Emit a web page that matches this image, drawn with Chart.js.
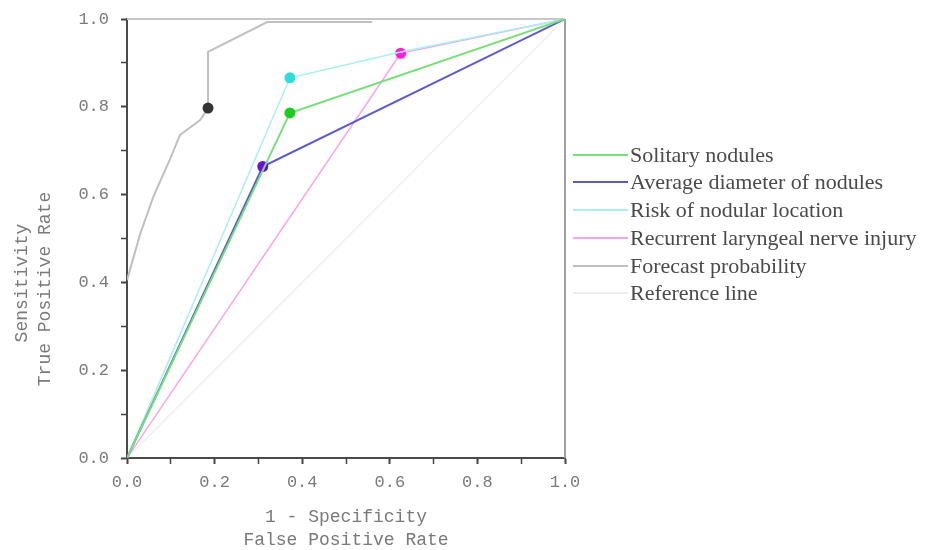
<!DOCTYPE html>
<html>
<head>
<meta charset="utf-8">
<script src="https://cdn.jsdelivr.net/npm/chart.js@4.4.1/dist/chart.umd.min.js"></script>
<style>
  html, body { margin: 0; padding: 0; background: #fff; }
  #wrap { width: 925px; height: 550px; position: relative; }
</style>
</head>
<body>
<div id="wrap"><canvas id="roc"></canvas></div>
<script>
// ROC data
const seriesNames = [
  'Solitary nodules',
  'Average diameter of nodules',
  'Risk of nodular location',
  'Recurrent laryngeal nerve injury',
  'Forecast probability',
  'Reference line'
];
const solitaryX = [0, 0.372, 1];
const solitaryY = [0, 0.786, 1];
const diameterX = [0, 0.31, 1];
const diameterY = [0, 0.664, 1];
const locationX = [0, 0.372, 0.625, 1];
const locationY = [0, 0.866, 0.925, 1];
const nerveX = [0, 0.625, 1];
const nerveY = [0, 0.922, 1];
const forecastX = [0, 0.03, 0.06, 0.098, 0.121, 0.167, 0.185, 0.185, 0.32, 0.56];
const forecastY = [0.405, 0.51, 0.595, 0.68, 0.736, 0.77, 0.797, 0.925, 0.993, 0.993];
const referenceX = [0, 1];
const referenceY = [0, 1];
const axisTicks = [0, 0.2, 0.4, 0.6, 0.8, 1.0];

const lineColors = ['#78de78', '#5a5ad2', '#a8f0f0', '#f6a6ec', '#c0c0c0', '#eeeeee'];
const dotColors = ['#1fcc1f', '#6a10d8', '#30dcdc', '#ff1fdc', '#333333', '#eeeeee'];
const lineWidths = [2, 2, 1.5, 1.5, 2, 1.5];
const markerAt = [1, 1, 1, 1, 6, -1];

function pts(xs, ys) {
  return xs.map((x, i) => ({ x: x, y: ys[i] }));
}
const allX = [solitaryX, diameterX, locationX, nerveX, forecastX, referenceX];
const allY = [solitaryY, diameterY, locationY, nerveY, forecastY, referenceY];

const datasets = seriesNames.map((name, i) => ({
  label: name,
  data: pts(allX[i], allY[i]),
  borderColor: lineColors[i],
  backgroundColor: dotColors[i],
  borderWidth: lineWidths[i],
  pointRadius: ctx => (ctx.dataIndex === markerAt[i] ? 5.5 : 0),
  pointBorderWidth: 0,
  pointBackgroundColor: dotColors[i],
  tension: 0,
  fill: false
}));

const monoFont = '"Liberation Mono", "DejaVu Sans Mono", monospace';
const labelGray = '#7a7a7a';

// frame, axis titles, legend
const decor = {
  id: 'decor',
  beforeDatasetsDraw(chart) {
    const { ctx, chartArea: a } = chart;
    ctx.save();
    ctx.strokeStyle = '#c8c8c8';
    ctx.lineWidth = 2;
    ctx.beginPath();
    ctx.moveTo(a.left, a.top);
    ctx.lineTo(a.right, a.top);
    ctx.stroke();
    ctx.strokeStyle = '#a0a0a0';
    ctx.beginPath();
    ctx.moveTo(a.right, a.top);
    ctx.lineTo(a.right, a.bottom);
    ctx.stroke();
    ctx.restore();
  },
  afterDraw(chart) {
    const { ctx, chartArea: a } = chart;
    ctx.save();
    ctx.fillStyle = labelGray;
    ctx.font = '18px ' + monoFont;
    ctx.textAlign = 'center';
    ctx.textBaseline = 'middle';
    // x title
    const cx = (a.left + a.right) / 2;
    ctx.fillText('1 - Specificity', cx, 517);
    ctx.fillText('False Positive Rate', cx, 540);
    // y title
    ctx.save();
    ctx.translate(22, 283);
    ctx.rotate(-Math.PI / 2);
    ctx.fillText('Sensitivity', 0, 0);
    ctx.restore();
    ctx.save();
    ctx.translate(45, 289);
    ctx.rotate(-Math.PI / 2);
    ctx.fillText('True Positive Rate', 0, 0);
    ctx.restore();

    // legend
    const legendY = [155, 182, 210, 238, 266, 293];
    ctx.font = '22px "Liberation Serif", "Times New Roman", serif';
    ctx.textAlign = 'left';
    chart.data.datasets.forEach((ds, i) => {
      const y = legendY[i];
      ctx.strokeStyle = ds.borderColor;
      ctx.lineWidth = 2;
      ctx.beginPath();
      ctx.moveTo(573, y);
      ctx.lineTo(628, y);
      ctx.stroke();
      ctx.fillStyle = '#4a4a4a';
      ctx.fillText(ds.label, 630, y + 1);
    });
    ctx.restore();
  }
};

function axisOpts(isX) {
  return {
    type: 'linear',
    min: 0,
    max: 1,
    afterBuildTicks(scale) {
      const t = [];
      for (let k = 0; k <= 10; k++) t.push({ value: k / 10 });
      scale.ticks = t;
    },
    afterFit(scale) {
      if (isX) {
        scale.height = 92;
        scale.paddingLeft = 0;
        scale.paddingRight = 0;
      } else {
        scale.width = 127;
        scale.paddingTop = 0;
        scale.paddingBottom = 0;
      }
    },
    border: { display: true, color: '#4a4a4a', width: 2 },
    grid: {
      drawOnChartArea: false,
      drawTicks: true,
      tickLength: 6,
      tickColor: '#444',
      tickWidth: ctx => (Math.round(ctx.tick.value * 10) % 2 === 0 ? 2 : 1.5)
    },
    ticks: {
      autoSkip: false,
      maxRotation: 0,
      padding: isX ? 8 : 12,
      color: labelGray,
      font: { family: monoFont, size: 17 },
      callback: v => {
        const k = Math.round(v * 10);
        return axisTicks.some(t => Math.round(t * 10) === k) ? (k / 10).toFixed(1) : '';
      }
    }
  };
}

new Chart(document.getElementById('roc'), {
  type: 'line',
  data: { datasets: datasets },
  options: {
    responsive: true,
    maintainAspectRatio: false,
    animation: false,
    layout: { padding: { top: 19, right: 360, left: 0, bottom: 0 } },
    plugins: { legend: { display: false }, tooltip: { enabled: false } },
    scales: { x: axisOpts(true), y: axisOpts(false) }
  },
  plugins: [decor]
});
</script>
</body>
</html>
